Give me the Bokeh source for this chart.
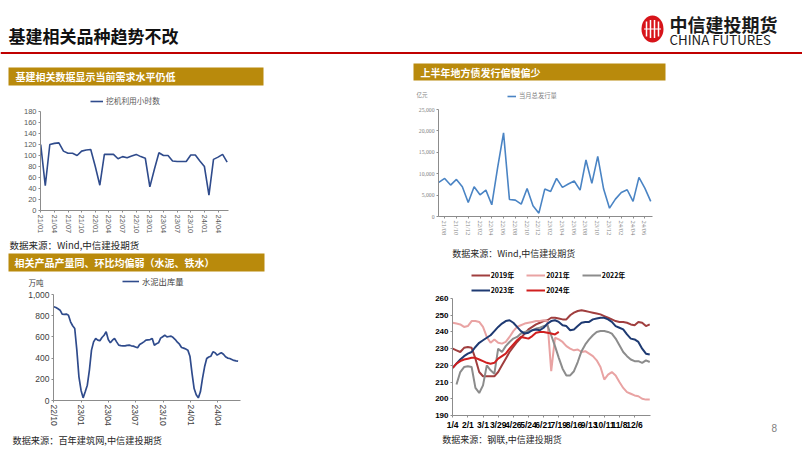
import math
import numpy as np
import pandas as pd
from bokeh.plotting import figure
from bokeh.layouts import column, row
from bokeh.models import Range1d, FixedTicker, Legend, LegendItem, NumeralTickFormatter
from bokeh.core.properties import value
from bokeh.embed import file_html
from bokeh.resources import INLINE

CJK = "Noto Sans CJK SC"
LAT = "Liberation Sans"

# ---------------- data ----------------
# Chart 1: 挖机利用小时数 (monthly)
excavator_months = [m.strftime("%y/%m") for m in pd.period_range("2021-01", "2024-06", freq="M")]
excavator_hours = [120, 45, 120, 122, 123, 108, 104, 104, 100, 108, 110, 111,
                   80, 46, 102, 102, 102, 94, 98, 96, 99, 102, 98, 95,
                   43, 75, 105, 100, 100, 90, 89, 89, 89, 101, 101, 90,
                   80, 28, 93, 97, 102, 88]
excavator_tick_labels = ["21/01", "21/04", "21/07", "21/10", "22/01", "22/04", "22/07",
                         "22/10", "23/01", "23/04", "23/07", "23/10", "24/01", "24/04"]

# Chart 2: 水泥出库量 (weekly, 万吨)
cement_start = "2022-10-01"
cement_output = [884, 877, 865, 852, 815, 812, 815, 805, 742, 705,
                 679, 475, 223, 97, 25, 82, 145, 286, 475, 553,
                 585, 570, 563, 594, 616, 648, 575, 544, 569, 585,
                 553, 522, 518, 516, 516, 520, 522, 516, 513, 505,
                 497, 528, 540, 553, 569, 572, 575, 585, 522, 535,
                 544, 588, 602, 616, 600, 604, 607, 594, 575, 550,
                 531, 500, 494, 485, 475, 418, 255, 113, 55, 25,
                 82, 208, 318, 396, 410, 418, 459, 450, 428, 440,
                 450, 437, 412, 400, 396, 387, 378, 374, 371]
cement_tick_labels = ["22/10", "23/01", "23/04", "23/07", "23/10", "24/01", "24/04"]

# Chart 3: 地方债当月总发行量 (monthly, 亿元)
bond_months = [m.strftime("%y/%m") for m in pd.period_range("2021-07", "2024-07", freq="M")]
bond_issuance = [7970, 8900, 7340, 8670, 6950, 3280, 6950, 5080, 6170, 2730,
                 11480, 19530, 3980, 3830, 2890, 6560, 2500, 780, 6410, 5860,
                 8900, 6800, 7580, 8280, 6170, 13200, 7730, 14060, 6410, 1950,
                 4060, 5630, 6250, 3520, 9140, 6640, 3520]
bond_tick_labels = ["21/08", "21/10", "21/12", "22/02", "22/04", "22/06", "22/08", "22/10",
                    "22/12", "23/02", "23/04", "23/06", "23/08", "23/10", "23/12", "24/02",
                    "24/04", "24/06"]

# Chart 4: 铁水 (weekly)
steel_week_dates = pd.date_range("2023-01-04", periods=53, freq="7D")
steel_tick_labels = ["1/4", "2/1", "3/1", "3/29", "4/26", "5/24", "6/21", "7/19",
                     "8/16", "9/13", "10/11", "11/8", "12/6"]
steel_2019 = [230, 229, 228, 230.5, 231, 230.5, 224, 216, 213.5, 213.5, 213.5, 213.5, 216,
              220, 224, 228, 231, 234, 236.5, 239, 241.5, 243, 244.5, 245.5, 246.5, 247,
              248.5, 248.5, 248, 247.5, 247.5, 250, 251.5, 252.5, 253, 252.5, 252, 251.5,
              251, 250.5, 249.5, 248.5, 247.5, 246.5, 246, 246, 245.5, 244.5, 244, 246,
              245.5, 243.5, 244.5]
steel_2021 = [245.5, 245, 244.5, 243, 243.5, 246.5, 246.5, 246, 243, 237, 233.5, 235.5, 233.5,
              233, 234, 237, 240.5, 243, 244, 245, 245.5, 246, 246.5, 246.5, 247, 246.5,
              216.5, 236.5, 235.5, 234, 231.5, 230, 229, 229.5, 228, 228.5, 227, 225.5, 223,
              219, 211.5, 214.5, 216, 214, 210, 206.5, 204, 203, 202, 201.5, 200, 199.5, 199.5]
steel_2022 = [None, 208.5, 216, 219, 219.5, 219, 206.5, 203.5, 208, 220, 217, 215, 230, 228,
              231.5, 234, 236, 237, 239, 240, 240.5, 241, 242, 242.5, 243.5, 244, 238, 231.5,
              224.5, 218, 214, 214, 216.5, 222, 228.5, 232.5, 235.5, 238, 240, 240.5, 240.5,
              240, 239, 236, 232, 228, 225.5, 223.5, 222.5, 222.5, 221.5, 223, 222]
steel_2023 = [218.5, 221, 223.5, 225.5, 227, 228, 231, 233.5, 235, 236.5, 238, 240.5, 243,
              245, 246.5, 247, 245.5, 243, 240.5, 239, 239.5, 241, 241.5, 241, 242.5, 245,
              246.5, 247, 246, 244, 243.5, 241, 241.5, 243.5, 245.5, 246, 246, 247.5, 248,
              248.5, 248.5, 247.5, 246, 243.5, 242.5, 241.5, 238.5, 236, 235.5, 234, 230,
              227, 226.5]
steel_2024 = [218.5, 221, 222.5, 223.5, 224, 224.5, 224.5, 223.5, 222.5, 221.5, 221, 221.5,
              224, 225.5, 227, 230, 232.5, 235, 237, 236.5, 236, 237.5, 239.5, 240, 240,
              239.5, 239, 238.5, 240]
steel_series = [("2019年", steel_2019, "#A03E3E"), ("2021年", steel_2021, "#E9A3A3"),
                ("2022年", steel_2022, "#8C8C8C"), ("2023年", steel_2023, "#1E3A72"),
                ("2024年", steel_2024, "#D01F1F")]

# ---------------- helpers ----------------
GOLD = "#B98A0C"
NAVY = "#2F4B8C"
BLUE = "#4A84C4"


def canvas(w, h):
    c = figure(width=w, height=h, x_range=Range1d(0, w), y_range=Range1d(h, 0),
               toolbar_location=None, output_backend="svg",
               x_axis_location=None, y_axis_location=None,
               min_border=0, outline_line_color=None)
    c.grid.visible = False
    return c


def put_text(c, x, y, s, size, color="#262626", font=CJK, bold=False, align="left"):
    c.text(x=[x], y=[y], text=[s], text_font=value(font), text_font_size=size,
           text_font_style="bold" if bold else "normal", text_color=color,
           text_align=align, text_baseline="middle")


def banner(c, left, right, top, bottom, s, dx=7):
    c.quad(left=[left], right=[right], top=[top], bottom=[bottom],
           fill_color=GOLD, line_color=None)
    put_text(c, left + dx, (top + bottom) / 2, s, "10px", color="white", bold=True)


def add_legend(c, entries, loc, glyph_w, size, color, bold=False, spacing=10, standoff=3):
    items = []
    for label, col, lw in entries:
        # off-canvas sample renderer, only used to draw the legend glyph
        r = c.line(x=[-50, -40], y=[-50, -50], line_color=col, line_width=lw)
        items.append(LegendItem(label=label, renderers=[r]))
    lg = Legend(items=items, location=loc, orientation="horizontal",
                glyph_width=glyph_w, glyph_height=6, label_height=6,
                label_standoff=standoff, spacing=spacing, padding=0, margin=0,
                border_line_color=None, background_fill_alpha=0,
                label_text_font=CJK, label_text_font_size=size,
                label_text_color=color,
                label_text_font_style="bold" if bold else "normal")
    c.add_layout(lg)


def chart(w, h, xr, yr, left, right, top, bottom):
    p = figure(width=w, height=h, x_range=xr, y_range=yr, toolbar_location=None,
               output_backend="svg", min_border_left=left, min_border_right=right,
               min_border_top=top, min_border_bottom=bottom, outline_line_color=None)
    p.grid.visible = False
    return p


def style_axes(p, size, color, font=LAT, bold=False, axis_color="#8C8C8C", xsize=None):
    for ax in (p.xaxis[0], p.yaxis[0]):
        ax.axis_line_color = axis_color
        ax.major_tick_line_color = axis_color
        ax.major_tick_in = 0
        ax.major_tick_out = 2
        ax.minor_tick_line_color = None
        ax.major_label_text_font = font
        ax.major_label_text_font_size = size
        ax.major_label_text_color = color
        ax.major_label_text_font_style = "bold" if bold else "normal"
        ax.major_label_standoff = 2
    if xsize:
        p.xaxis[0].major_label_text_font_size = xsize


def box(f):
    # wrap each figure on its own so frames are not aligned with siblings
    return row(f)


# ---------------- header ----------------
H = canvas(802, 58)
put_text(H, 8, 35, "基建相关品种趋势不改", "17px", color="#111111", bold=True)
H.segment(x0=[0], y0=[52.5], x1=[802], y1=[52.5], line_color="#C00000", line_width=2)
H.ellipse(x=[652], y=[28.5], width=22, height=27, fill_color="#D7141A", line_color=None)
H.segment(x0=[646, 650, 654, 658], y0=[21, 19.5, 19.5, 21], x1=[646, 650, 654, 658],
          y1=[36, 37.5, 37.5, 36], line_color="white", line_width=1.5)
H.segment(x0=[643.5], y0=[28.5], x1=[660.5], y1=[28.5], line_color="white", line_width=1.0)
put_text(H, 669, 23.5, "中信建投期货", "18px", color="#1A1A1A", bold=True)
put_text(H, 669, 38.8, "CHINA FUTURES", "13.3px", color="#1A1A1A")

# ---------------- left column (x 0..400) ----------------
LA = canvas(400, 48)                      # y 58..106
banner(LA, 8, 263, 9, 27, "基建相关数据显示当前需求水平仍低")
add_legend(LA, [("挖机利用小时数", NAVY, 1.6)], (90, 0), 13, "7.7px", "#595959")

p1 = chart(400, 132, Range1d(-0.05, 41.3), Range1d(0, 180), 40, 172, 5, 28)   # y 106..238
x1 = list(range(len(excavator_months)))
p1.line(x1, excavator_hours, line_color=NAVY, line_width=1.6)
style_axes(p1, "7.5px", "#595959")
t1 = [excavator_months.index(s) for s in excavator_tick_labels]
p1.xaxis.ticker = FixedTicker(ticks=t1)
p1.xaxis.major_label_overrides = {t: excavator_months[t] for t in t1}
p1.xaxis.major_label_orientation = -math.pi / 2
p1.yaxis.ticker = FixedTicker(ticks=list(range(0, 181, 20)))

LB = canvas(400, 49)                      # y 238..287
put_text(LB, 9, 6.5, "数据来源：Wind,中信建投期货", "9.5px", color="#262626")
banner(LB, 8, 264, 15, 33, "相关产品产量同、环比均偏弱（水泥、铁水）", dx=6)
put_text(LB, 28, 44, "万吨", "7.5px", color="#404040")
add_legend(LB, [("水泥出库量", NAVY, 1.6)], (122, 0.5), 17, "8.3px", "#404040")

start = pd.Timestamp(cement_start)
cement_days = [7 * i for i in range(len(cement_output))]
p2 = chart(400, 146, Range1d(-1, 624), Range1d(0, 1000), 53, 160, 7, 33)     # y 287..433
p2.line(cement_days, cement_output, line_color=NAVY, line_width=1.7)
style_axes(p2, "8.5px", "#404040")
t2 = [(pd.Timestamp("20" + s.replace("/", "-") + "-01") - start).days for s in cement_tick_labels]
p2.xaxis.ticker = FixedTicker(ticks=t2)
p2.xaxis.major_label_overrides = {t: s for t, s in zip(t2, cement_tick_labels)}
p2.xaxis.major_label_orientation = -math.pi / 2
p2.yaxis.ticker = FixedTicker(ticks=list(range(0, 1001, 200)))
p2.yaxis.formatter = NumeralTickFormatter(format="0,0")

LC = canvas(400, 18)                      # y 433..451
put_text(LC, 12, 6, "数据来源：百年建筑网,中信建投期货", "9.2px", color="#262626")

left_col = column(box(LA), box(p1), box(LB), box(p2), box(LC))

# ---------------- right column (x 400..802) ----------------
RA = canvas(402, 46)                      # y 58..104
banner(RA, 13, 265, 5, 22, "上半年地方债发行偏慢偏少")
put_text(RA, 16, 36.3, "亿元", "5.5px", color="#7F7F7F")
add_legend(RA, [("当月总发行量", BLUE, 1.6)], (107, 4), 9, "6.3px", "#7F7F7F")

p3 = chart(402, 142, Range1d(-0.05, 36.3), Range1d(0, 25000), 38, 150, 5, 30)  # y 104..246
x3 = list(range(len(bond_months)))
p3.line(x3, bond_issuance, line_color=BLUE, line_width=1.6)
style_axes(p3, "5.7px", "#7F7F7F", font="Liberation Serif", xsize="6.5px")
t3 = [bond_months.index(s) for s in bond_tick_labels]
p3.xaxis.ticker = FixedTicker(ticks=t3)
p3.xaxis.major_label_overrides = {t: bond_months[t] for t in t3}
p3.xaxis.major_label_orientation = -math.pi / 2
p3.yaxis.ticker = FixedTicker(ticks=list(range(0, 25001, 5000)))
p3.yaxis.formatter = NumeralTickFormatter(format="0,0")

RB = canvas(402, 48)                      # y 246..294
put_text(RB, 51.7, 7.3, "数据来源：Wind,中信建投期货", "9px", color="#262626")
add_legend(RB, [(n, c, 2) for n, _, c in steel_series[:3]], (70.7, 14), 19, "7px",
           "#000000", bold=True, spacing=12, standoff=1)
add_legend(RB, [(n, c, 2) for n, _, c in steel_series[3:]], (70.7, -0.5), 19, "7px",
           "#000000", bold=True, spacing=12, standoff=1)

p4 = chart(300, 139, Range1d(-0.05, 52.2), Range1d(190, 260), 52, 50, 4, 18)  # y 294..433
for name, vals, col in steel_series:
    yv = [np.nan if v is None else v for v in vals]
    p4.line(list(range(len(yv))), yv, line_color=col, line_width=2)
style_axes(p4, "8px", "#000000", bold=True, xsize="8.5px")
t4 = list(range(0, len(steel_week_dates), 4))[:len(steel_tick_labels)]
p4.xaxis.ticker = FixedTicker(ticks=t4)
p4.xaxis.major_label_overrides = {t: f"{steel_week_dates[t].month}/{steel_week_dates[t].day}" for t in t4}
p4.yaxis.ticker = FixedTicker(ticks=list(range(190, 261, 10)))

SIDE = canvas(102, 139)
put_text(SIDE, 71, 133, "8", "10px", color="#7F7F7F", font=LAT)

RC = canvas(402, 18)                      # y 433..451
put_text(RC, 41.7, 6, "数据来源：钢联,中信建投期货", "9px", color="#262626")

right_col = column(box(RA), box(p3), box(RB), row(box(p4), box(SIDE)), box(RC))

page = column(box(H), row(left_col, right_col))

open("out.html", "w").write(file_html(page, INLINE))
